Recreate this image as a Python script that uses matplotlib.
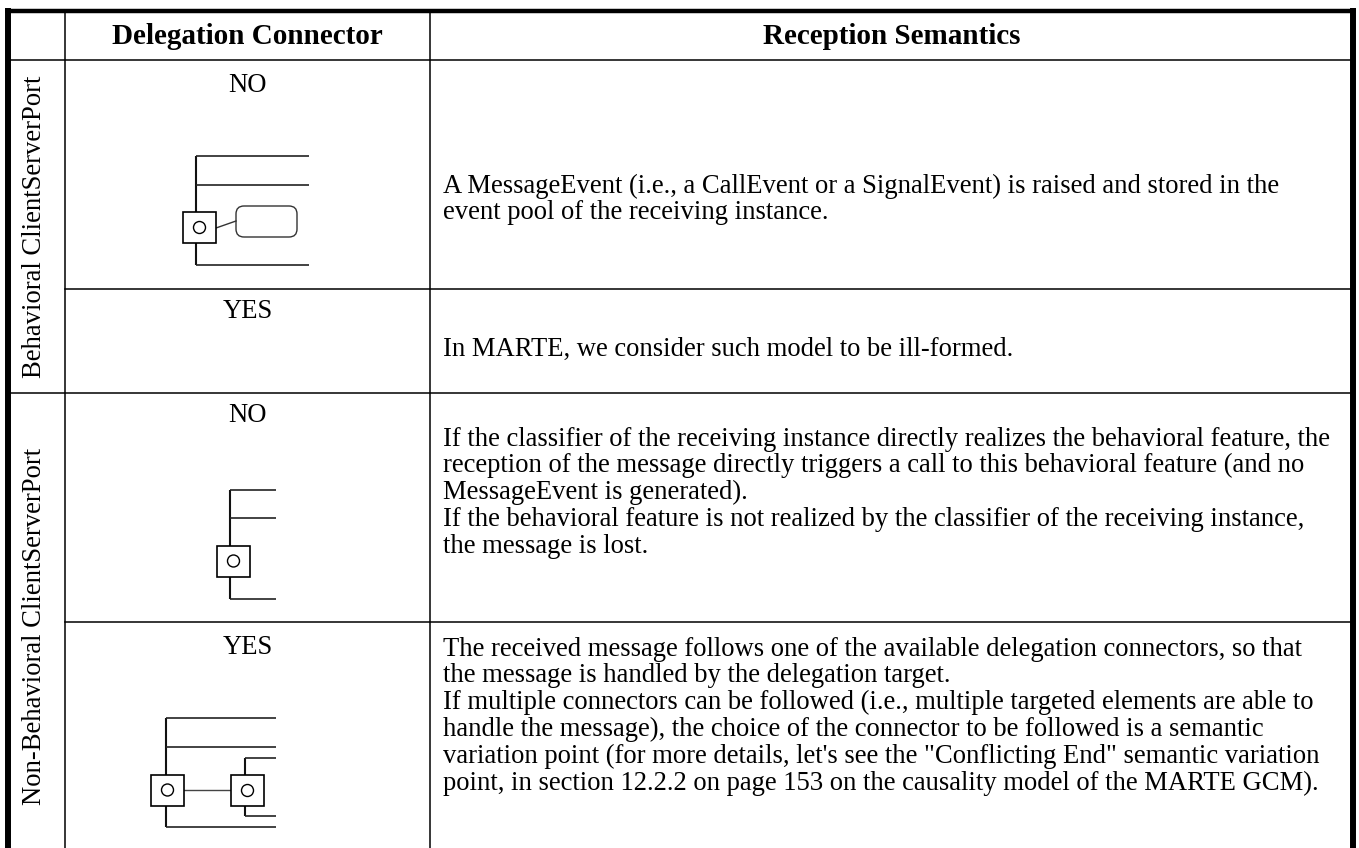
import matplotlib
matplotlib.use("Agg")
import matplotlib.pyplot as plt
from matplotlib.patches import Rectangle, Circle, FancyBboxPatch

# table content
headers = ["Delegation Connector", "Reception Semantics"]
port_groups = ["Behavioral ClientServerPort", "Non-Behavioral ClientServerPort"]
delegation = ["NO", "YES", "NO", "YES"]
semantics = [
    ["A MessageEvent (i.e., a CallEvent or a SignalEvent) is raised and stored in the",
     "event pool of the receiving instance."],
    ["In MARTE, we consider such model to be ill-formed."],
    ["If the classifier of the receiving instance directly realizes the behavioral feature, the",
     "reception of the message directly triggers a call to this behavioral feature (and no",
     "MessageEvent is generated).",
     "If the behavioral feature is not realized by the classifier of the receiving instance,",
     "the message is lost."],
    ["The received message follows one of the available delegation connectors, so that",
     "the message is handled by the delegation target.",
     "If multiple connectors can be followed (i.e., multiple targeted elements are able to",
     "handle the message), the choice of the connector to be followed is a semantic",
     "variation point (for more details, let's see the \"Conflicting End\" semantic variation",
     "point, in section 12.2.2 on page 153 on the causality model of the MARTE GCM)."],
]

# layout (pixels)
W, H = 1359, 848
XL, X1, X2, XR = 8, 65, 430, 1353
YT, YH = 11, 60
row_bottoms = [289, 393, 622, 900]
label_y = [86, 312, 415, 648]
text_first = [186, 349, 439, 649]
LINE_H = 26.8
FS = 19.2
FS_HEAD = 21
SERIF = "Liberation Serif"

fig = plt.figure(figsize=(W / 100, H / 100), dpi=100)
ax = fig.add_axes([0, 0, 1, 1])
ax.set_xlim(0, W)
ax.set_ylim(H, 0)
ax.axis("off")

lw = 1.1
# grid lines
ax.plot([X1, X1], [YT, H], color="black", lw=lw)
ax.plot([X2, X2], [YT, H], color="black", lw=lw)
ax.plot([XL, XR], [YH, YH], color="black", lw=lw)
for i, yb in enumerate(row_bottoms[:3]):
    x0 = XL if i == 1 else X1
    ax.plot([x0, XR], [yb, yb], color="black", lw=lw)
# thick outer border
ax.plot([5, 1356], [YT, YT], color="black", lw=3.2, solid_capstyle="butt")
ax.plot([XL, XL], [8, H], color="black", lw=4.3, solid_capstyle="butt")
ax.plot([XR, XR], [8, H], color="black", lw=4.3, solid_capstyle="butt")

# headers
ax.text((X1 + X2) / 2, 36, headers[0], ha="center", va="center", fontsize=FS_HEAD,
        fontweight="bold", family=SERIF)
ax.text((X2 + XR) / 2, 36, headers[1], ha="center", va="center", fontsize=FS_HEAD,
        fontweight="bold", family=SERIF)

# port group labels
ax.text(35, (YH + row_bottoms[1]) / 2, port_groups[0], rotation=90, ha="center",
        va="center", fontsize=FS, family=SERIF)
ax.text(35, 626, port_groups[1], rotation=90, ha="center", va="center",
        fontsize=FS, family=SERIF)

# cells
for i, lab in enumerate(delegation):
    ax.text((X1 + X2) / 2, label_y[i], lab, ha="center", va="center", fontsize=FS,
            family=SERIF)
    for j, line in enumerate(semantics[i]):
        ax.text(443, text_first[i] + j * LINE_H, line, ha="left", va="center",
                fontsize=FS, family=SERIF)


def hline(x0, x1, y):
    ax.plot([x0, x1], [y, y], color="#222222", lw=1.2, solid_capstyle="butt")


def vline(x, y0, y1):
    ax.plot([x, x], [y0, y1], color="#111111", lw=1.5, solid_capstyle="butt")


def port(cx, cy):
    ax.add_patch(Rectangle((cx - 16.5, cy - 15.5), 33, 31, facecolor="white",
                           edgecolor="black", lw=1.2, zorder=3))
    ax.add_patch(Circle((cx, cy), 6, facecolor="white", edgecolor="black",
                        lw=1.0, zorder=4))


# diagram: behavioral port, no delegation
vline(196, 156, 265)
for y in (156, 185, 265):
    hline(196, 309, y)
port(199.5, 227.5)
ax.plot([216, 236], [228, 221], color="#333333", lw=1.0)
ax.add_patch(FancyBboxPatch((236, 206), 61, 31, boxstyle="round,pad=0,rounding_size=8",
                            facecolor="white", edgecolor="#333333", lw=1.0))

# diagram: non-behavioral port, no delegation
vline(230, 490, 599)
for y in (490, 518, 599):
    hline(230, 276, y)
port(233.5, 561)

# diagram: non-behavioral port, delegation
vline(166, 718, 827)
for y in (718, 747, 827):
    hline(166, 276, y)
vline(245, 758, 816)
for y in (758, 816):
    hline(245, 276, y)
ax.plot([184, 231], [790, 790], color="#444444", lw=1.0)
port(167.5, 790)
port(247.5, 790.5)

fig.savefig("out.png", dpi=100)
